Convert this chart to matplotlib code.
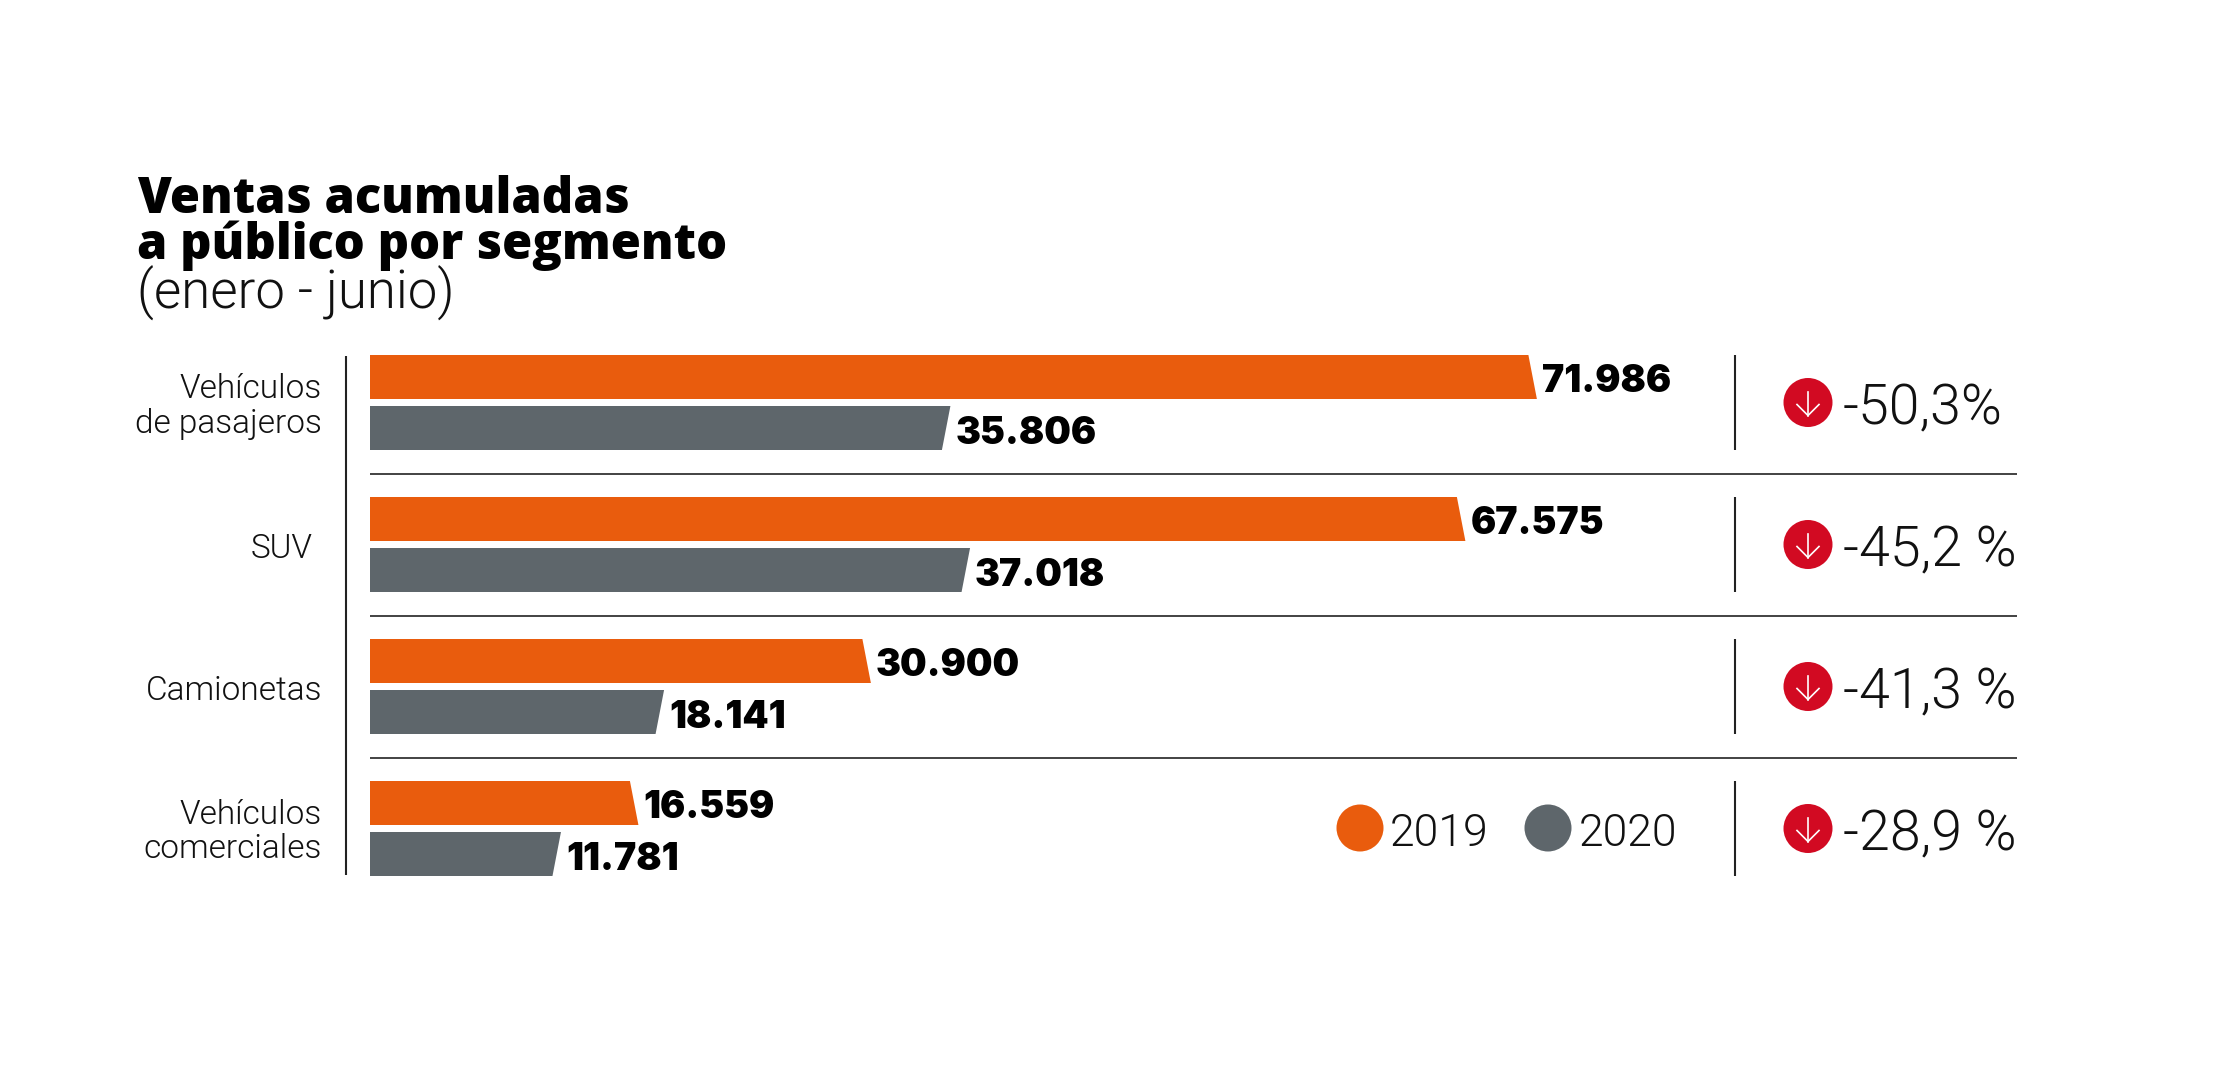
import matplotlib
matplotlib.use('Agg')
import matplotlib.pyplot as plt
from matplotlib.patches import Circle

categories = ['Vehículos\nde pasajeros', 'SUV', 'Camionetas', 'Vehículos\ncomerciales']
ventas_2019 = [71986, 67575, 30900, 16559]
ventas_2020 = [35806, 37018, 18141, 11781]
labels_2019 = ['71.986', '67.575', '30.900', '16.559']
labels_2020 = ['35.806', '37.018', '18.141', '11.781']
cambios = ['-50,3%', '-45,2 %', '-41,3 %', '-28,9 %']
years = ['2019', '2020']

ORANGE = '#E95C0D'
GRAY = '#5E666B'
RED = '#D20A22'
DARK = '#222222'
LIGHT_FONT = 'Roboto'

W, H = 2214, 1067
PITCH = 142
CENTER0 = 402.5
PX_PER_UNIT = 0.01621
SLANT = 8.5 / PX_PER_UNIT

fig = plt.figure(figsize=(W / 100, H / 100), dpi=100, facecolor='white')

# overlay in pixel coordinates for the text and rules
over = fig.add_axes([0, 0, 1, 1])
over.set_xlim(0, W)
over.set_ylim(H, 0)
over.axis('off')

# bars live on their own axes, one y unit per segment
ax = fig.add_axes([370 / W, 0, (2017 - 370) / W, 1])
ax.set_xlim(0, (2017 - 370) / PX_PER_UNIT)
ax.set_ylim((H - CENTER0) / PITCH, -CENTER0 / PITCH)
ax.axis('off')
ax.patch.set_alpha(0)

bar_h = 44 / PITCH
off = 25.5 / PITCH
pt = 0.72


def value_label(txt, x, y):
    ax.annotate(txt, (x, y), xytext=(5 * pt, -15.5 * pt), textcoords='offset points',
                va='baseline', ha='left', fontsize=27, family='Inter', weight='black',
                color='black')


for i in range(len(categories)):
    v = ventas_2019[i]
    y0, y1 = i - off - bar_h / 2, i - off + bar_h / 2
    ax.fill([0, v - SLANT, v, 0], [y0, y0, y1, y1], color=ORANGE, lw=0)
    value_label(labels_2019[i], v, i - off)

    v = ventas_2020[i]
    y0, y1 = i + off - bar_h / 2, i + off + bar_h / 2
    ax.fill([0, v, v - SLANT, 0], [y0, y0, y1, y1], color=GRAY, lw=0)
    value_label(labels_2020[i], v, i + off)

    cy = CENTER0 + i * PITCH
    over.text(322 if i != 1 else 313, cy + 4, categories[i], ha='right', va='center',
              fontsize=24, family=LIGHT_FONT, weight=300, color='#111111', linespacing=1.08)
    over.plot([1735, 1735], [cy - 47.5, cy + 47.5], color=DARK, lw=1.5, solid_capstyle='butt')
    over.add_patch(Circle((1808, cy), 24.5, color=RED, lw=0))
    over.plot([1808, 1808], [cy - 11, cy + 13], color='white', lw=1.2)
    over.plot([1797, 1808, 1819], [cy + 2, cy + 13, cy + 2], color='white', lw=1.2)
    over.text(1843, cy + 22, cambios[i], ha='left', va='baseline', fontsize=40,
              family=LIGHT_FONT, weight=300, color='#111111')
    if i < 3:
        over.plot([370, 2017], [cy + 71, cy + 71], color=DARK, lw=1.2, solid_capstyle='butt')

over.plot([345.5, 345.5], [356, 875], color=DARK, lw=1.5, solid_capstyle='butt')

# title
over.text(137, 213, 'Ventas acumuladas', fontsize=35.2, family='Open Sans', weight='extra bold',
          color='black', va='baseline')
over.text(137, 259, 'a público por segmento', fontsize=35.2, family='Open Sans', weight='extra bold',
          color='black', va='baseline')
over.text(137, 309, '(enero - junio)', fontsize=38, family=LIGHT_FONT, weight=300,
          color='#111111', va='baseline')

# legend
for year, col, cx, tx in zip(years, [ORANGE, GRAY], [1360, 1548], [1390, 1579]):
    over.add_patch(Circle((cx, 828), 23.5, color=col, lw=0))
    over.text(tx, 846, year, ha='left', va='baseline', fontsize=32, family=LIGHT_FONT,
              weight=300, color='#111111')

fig.savefig('out.png', dpi=100)
